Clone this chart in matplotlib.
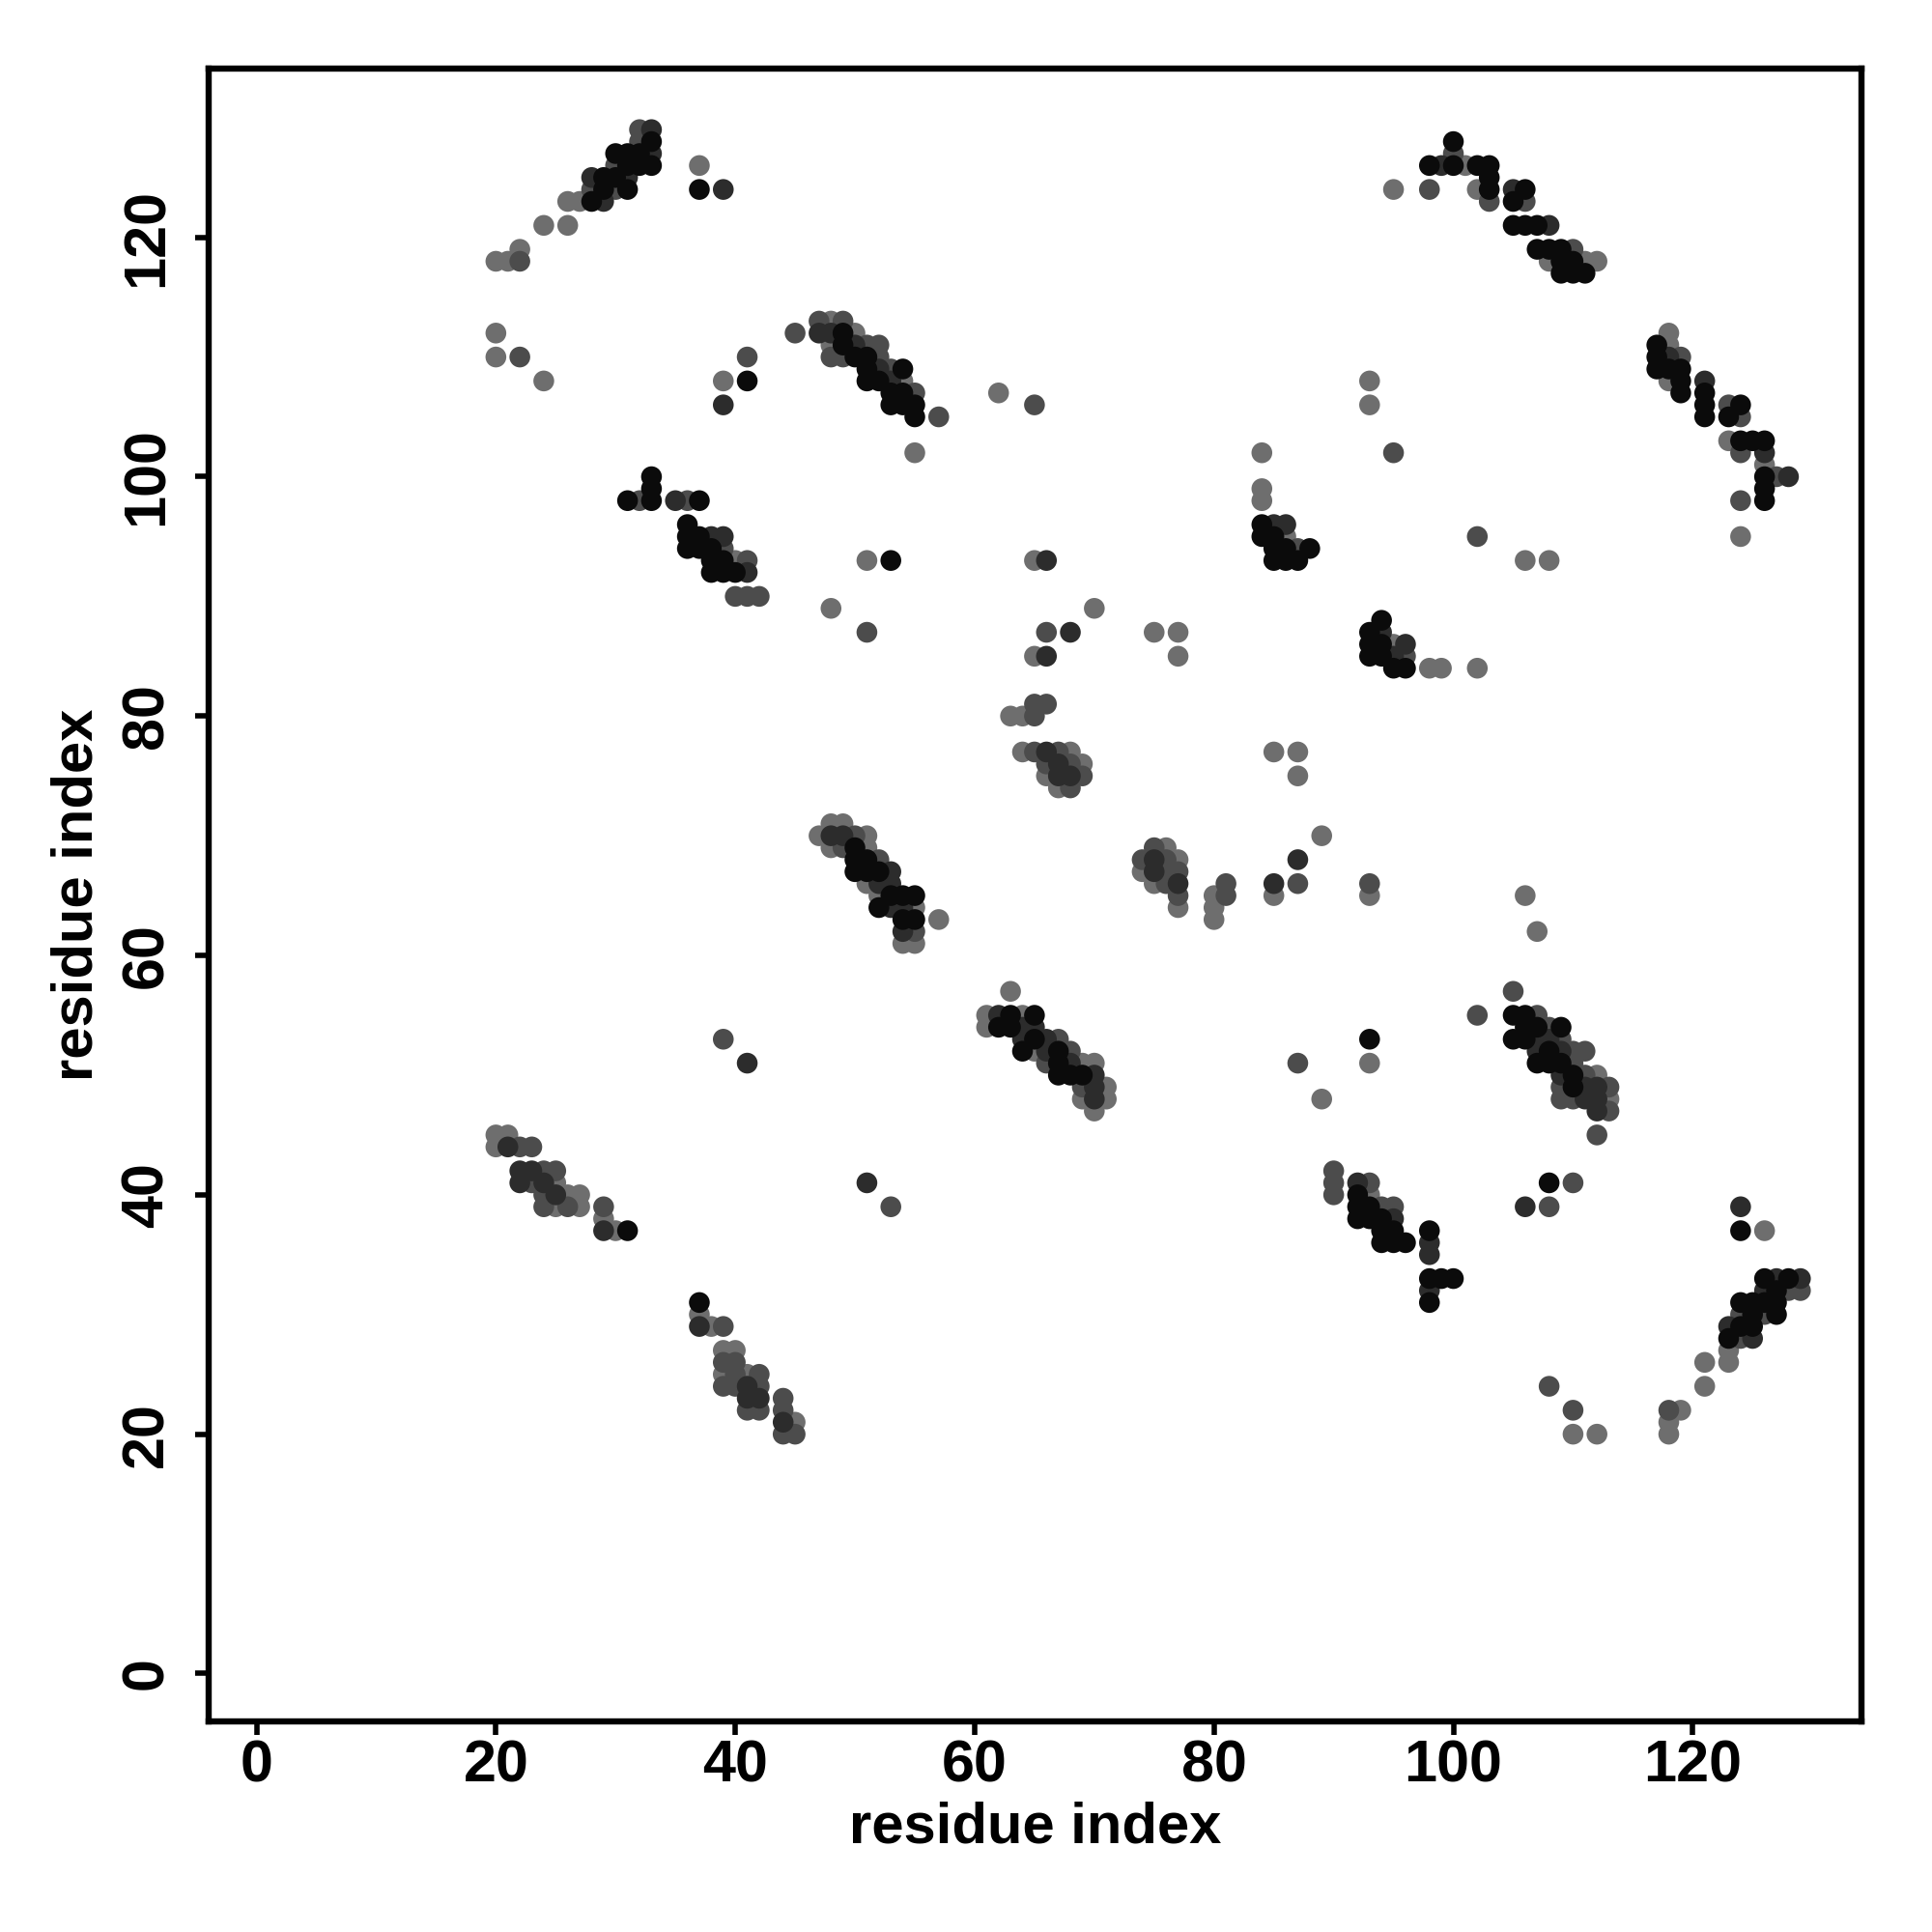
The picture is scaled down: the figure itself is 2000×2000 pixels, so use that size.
import matplotlib
matplotlib.use("Agg")
import matplotlib.pyplot as plt

# contact pairs: residue i (x), residue j (y), shade level (0 = darkest ... 3 = lightest)
res_i = [
    # top-left strand pair
    32, 33, 32, 33, 30, 31, 32, 33, 30, 31, 32, 33, 37, 28, 29, 30, 31, 28, 29, 30, 31, 37, 39,
    26, 27, 28, 29, 24, 26, 22, 20, 21, 22,
    20, 20, 22, 24, 41, 39, 41, 39,
    # 45-57 / 102-113
    45, 47, 48, 49, 47, 48, 49, 50, 48, 49, 50, 51, 52, 48, 49, 50, 51, 52, 51, 52, 53, 54,
    51, 52, 53, 54, 53, 54, 55, 53, 54, 55, 55, 57, 55,
    # 31-42 / 90-100
    33, 33, 31, 32, 33, 35, 36, 37, 36, 36, 37, 38, 39, 36, 37, 38, 39, 38, 39, 40, 41,
    38, 39, 40, 41, 40, 41, 42, 51, 53, 48, 51,
    # 62-70 / 73-107
    62, 65, 65, 66, 70, 66, 68, 65, 66, 65, 66, 63, 64, 65, 64, 65, 66, 67, 68, 66, 67, 68, 69,
    66, 67, 68, 69, 67, 68, 75, 77, 77,
    # 47-57 / 61-71
    48, 49, 47, 48, 49, 50, 51, 48, 49, 50, 51, 50, 51, 52, 50, 51, 52, 53, 51, 52, 53,
    52, 53, 54, 55, 52, 53, 54, 55, 54, 55, 57, 54, 55, 54, 55,
    # 61-71 / 47-57
    63, 61, 62, 63, 64, 65, 61, 62, 63, 64, 65, 64, 65, 66, 67, 64, 65, 66, 67, 68, 66, 67, 68,
    69, 70, 67, 68, 69, 70, 69, 70, 71, 69, 70, 71, 70,
    # 74-93 / 63-77
    85, 87, 87, 89, 75, 76, 74, 75, 76, 77, 87, 74, 75, 76, 77, 75, 76, 77, 81, 85, 87, 77, 80,
    81, 85, 77, 80, 80, 93, 93,
    # 84-108 / 84-108
    93, 93, 84, 95, 84, 84, 84, 85, 86, 84, 85, 86, 102, 85, 86, 87, 88, 85, 86, 87, 106, 108,
    94, 93, 94, 93, 94, 95, 96, 93, 94, 95, 96, 95, 96, 98, 99, 102,
    # top-right strand pair
    100, 100, 98, 99, 100, 101, 102, 103, 103, 95, 98, 102, 103, 105, 106, 103, 105, 106,
    105, 106, 107, 108, 107, 108, 109, 110, 108, 109, 110, 111, 112, 109, 110, 111,
    # 117-128 / 95-112
    118, 117, 118, 117, 118, 119, 117, 118, 119, 118, 119, 121, 119, 121, 121, 123, 124, 121,
    123, 124, 123, 124, 125, 126, 124, 126, 126, 126, 127, 128, 126, 124, 126, 124,
    # 102-113 / 20-65
    106, 107, 105, 102, 105, 106, 107, 106, 107, 108, 109, 105, 106, 107, 108, 109, 107, 108,
    109, 110, 111, 107, 108, 109, 110, 109, 110, 111, 112, 109, 110, 111, 112, 113, 109, 110,
    111, 112, 113, 112, 113, 112, 108, 110, 106, 108, 108, 110, 110, 112,
    # 87-100 / 31-53
    93, 87, 93, 89, 90, 90, 92, 93, 90, 92, 93, 92, 93, 94, 95, 92, 93, 94, 95, 94, 95, 98,
    94, 95, 96, 98, 98, 98, 99, 100, 98, 98,
    # 118-129 / 20-39
    124, 124, 126, 126, 127, 128, 129, 126, 127, 128, 129, 124, 125, 126, 127, 124, 125, 126,
    127, 123, 124, 125, 123, 124, 125, 123, 121, 123, 121, 118, 119, 118, 118,
    # 20-53 / 20-53
    39, 41, 20, 21, 20, 21, 22, 23, 22, 23, 24, 25, 22, 23, 24, 25, 24, 25, 26, 27, 24, 25, 26,
    27, 29, 29, 29, 30, 31, 51, 53,
    37, 37, 37, 38, 39, 39, 40, 39, 40, 39, 40, 41, 42, 39, 40, 41, 42, 41, 42, 44, 41, 42, 44,
    44, 45, 44, 45,
]
res_j = [
    129, 129, 128, 128, 127, 127, 127, 127, 126, 126, 126, 126, 126, 125, 125, 125, 125, 124,
    124, 124, 124, 124, 124, 123, 123, 123, 123, 121, 121, 119, 118, 118, 118,
    112, 110, 110, 108, 110, 108, 108, 106,
    112, 113, 113, 113, 112, 112, 112, 112, 111, 111, 111, 111, 111, 110, 110, 110, 110, 110,
    109, 109, 109, 109, 108, 108, 108, 108, 107, 107, 107, 106, 106, 106, 105, 105, 102,
    100, 99, 98, 98, 98, 98, 98, 98, 96, 95, 95, 95, 95, 94, 94, 94, 94, 93, 93, 93, 93,
    92, 92, 92, 92, 90, 90, 90, 93, 93, 89, 87,
    107, 106, 93, 93, 89, 87, 87, 85, 85, 81, 81, 80, 80, 80, 77, 77, 77, 77, 77, 76, 76, 76, 76,
    75, 75, 75, 75, 74, 74, 87, 87, 85,
    71, 71, 70, 70, 70, 70, 70, 69, 69, 69, 69, 68, 68, 68, 67, 67, 67, 67, 66, 66, 66,
    65, 65, 65, 65, 64, 64, 64, 64, 63, 63, 63, 62, 62, 61, 61,
    57, 55, 55, 55, 55, 55, 54, 54, 54, 54, 54, 53, 53, 53, 53, 52, 52, 52, 52, 52, 51, 51, 51,
    51, 51, 50, 50, 50, 50, 49, 49, 49, 48, 48, 48, 47,
    77, 77, 75, 70, 69, 69, 68, 68, 68, 68, 68, 67, 67, 67, 67, 66, 66, 66, 66, 66, 66, 65, 65,
    65, 65, 64, 64, 63, 66, 65,
    108, 106, 102, 102, 99, 98, 96, 96, 96, 95, 95, 95, 95, 94, 94, 94, 94, 93, 93, 93, 93, 93,
    88, 87, 87, 86, 86, 86, 86, 85, 85, 85, 85, 84, 84, 84, 84, 84,
    128, 127, 126, 126, 126, 126, 126, 126, 125, 124, 124, 124, 124, 124, 124, 123, 123, 123,
    121, 121, 121, 121, 119, 119, 119, 119, 118, 118, 118, 118, 118, 117, 117, 117,
    112, 111, 111, 110, 110, 110, 109, 109, 109, 108, 108, 108, 107, 107, 106, 106, 106, 105,
    105, 105, 103, 103, 103, 103, 102, 102, 101, 100, 100, 100, 99, 98, 98, 95,
    65, 62, 57, 55, 55, 55, 55, 54, 54, 54, 54, 53, 53, 53, 53, 53, 52, 52,
    52, 52, 52, 51, 51, 51, 51, 50, 50, 50, 50, 49, 49, 49, 49, 49, 48, 48,
    48, 48, 48, 47, 47, 45, 41, 41, 39, 39, 24, 22, 20, 20,
    53, 51, 51, 48, 42, 41, 41, 41, 40, 40, 40, 39, 39, 39, 39, 38, 38, 38, 38, 37, 37, 37,
    36, 36, 36, 36, 35, 33, 33, 33, 32, 31,
    39, 37, 37, 33, 33, 33, 33, 32, 32, 32, 32, 31, 31, 31, 31, 30, 30, 30,
    30, 29, 29, 29, 28, 28, 28, 27, 26, 26, 24, 22, 22, 21, 20,
    53, 51, 45, 45, 44, 44, 44, 44, 42, 42, 42, 42, 41, 41, 41, 41, 40, 40, 40, 40, 39, 39, 39,
    39, 39, 38, 37, 37, 37, 41, 39,
    31, 30, 29, 29, 29, 27, 27, 26, 26, 25, 25, 25, 25, 24, 24, 24, 24, 23, 23, 23, 22, 22, 22,
    21, 21, 20, 20,
]
shade = [
    2, 1, 2, 0, 0, 0, 0, 1, 2, 0, 0, 0, 3, 1, 0, 0, 1, 2, 0, 2, 0, 0, 1,
    3, 3, 0, 1, 3, 3, 3, 3, 3, 2,
    3, 3, 2, 3, 2, 3, 0, 1,
    2, 2, 3, 2, 1, 1, 0, 3, 3, 0, 1, 2, 2, 2, 2, 0, 0, 2, 0, 1, 2, 0,
    0, 0, 1, 3, 0, 0, 2, 0, 0, 0, 0, 2, 3,
    0, 0, 0, 2, 0, 1, 2, 0, 0, 0, 0, 1, 1, 0, 0, 0, 2, 0, 0, 3, 2,
    0, 0, 0, 1, 2, 2, 2, 3, 0, 3, 2,
    3, 2, 3, 1, 3, 2, 1, 3, 1, 2, 2, 3, 3, 2, 3, 2, 1, 2, 3, 2, 1, 2, 3,
    3, 1, 1, 2, 3, 2, 3, 3, 3,
    3, 3, 3, 1, 1, 2, 3, 3, 2, 0, 3, 0, 0, 2, 0, 0, 0, 1, 3, 1, 1,
    3, 0, 0, 0, 0, 1, 1, 3, 0, 0, 3, 1, 2, 3, 3,
    3, 3, 1, 0, 3, 0, 3, 0, 0, 1, 1, 1, 0, 1, 2, 0, 3, 1, 0, 2, 2, 0, 1,
    3, 3, 0, 0, 0, 1, 2, 1, 3, 3, 1, 3, 3,
    3, 3, 3, 3, 2, 3, 2, 1, 2, 3, 1, 3, 1, 2, 2, 3, 2, 1, 2, 1, 2, 2, 3,
    2, 3, 3, 3, 3, 2, 3,
    3, 3, 3, 2, 3, 3, 0, 1, 1, 0, 0, 3, 2, 0, 0, 2, 0, 0, 0, 0, 3, 3,
    0, 0, 1, 0, 0, 3, 1, 0, 0, 1, 2, 0, 0, 3, 3, 3,
    0, 2, 0, 1, 0, 3, 0, 0, 0, 3, 2, 3, 0, 1, 0, 2, 0, 2,
    0, 0, 0, 1, 0, 0, 0, 2, 3, 0, 0, 3, 3, 0, 0, 0,
    3, 0, 3, 0, 1, 2, 0, 0, 0, 3, 0, 1, 0, 0, 0, 2, 0, 0,
    0, 2, 3, 0, 0, 0, 2, 1, 3, 0, 2, 1, 0, 2, 0, 3,
    3, 3, 2, 2, 0, 0, 2, 0, 0, 2, 0, 0, 0, 1, 1, 2, 1, 0,
    1, 2, 2, 0, 0, 0, 2, 1, 0, 2, 3, 2, 0, 1, 1, 2, 2, 2,
    1, 1, 3, 1, 2, 2, 0, 2, 1, 2, 2, 2, 3, 3,
    0, 2, 3, 3, 2, 2, 1, 2, 2, 0, 3, 0, 0, 2, 2, 0, 0, 0, 1, 0, 0, 0,
    0, 0, 0, 1, 1, 0, 0, 0, 1, 0,
    1, 0, 3, 0, 1, 0, 1, 1, 0, 2, 2, 0, 0, 0, 0, 2, 0, 2,
    0, 1, 0, 0, 0, 2, 1, 3, 3, 3, 3, 2, 3, 3, 3,
    2, 1, 3, 3, 3, 1, 2, 2, 1, 1, 2, 2, 1, 2, 1, 3, 2, 1, 3, 3, 2, 3, 2,
    3, 2, 3, 1, 3, 0, 1, 2,
    0, 3, 1, 3, 2, 3, 3, 2, 2, 3, 2, 3, 2, 2, 2, 1, 2, 1, 1, 2, 2, 2, 2,
    1, 3, 2, 2,
]

tick_values = [0, 20, 40, 60, 80, 100, 120]
axis_title = "residue index"

shade_colors = ["#0b0b0b", "#2c2c2c", "#4c4c4c", "#6e6e6e"]

plt.rcParams["font.family"] = ["Liberation Sans", "DejaVu Sans"]
plt.rcParams["font.weight"] = "bold"

fig = plt.figure(figsize=(10, 10), dpi=200)
ax = fig.add_axes([0.108, 0.109, 0.8555, 0.8555])

# draw lighter shades first so darker contacts sit on top
order = sorted(range(len(shade)), key=lambda k: -shade[k])
xs = [res_i[k] for k in order]
ys = [res_j[k] for k in order]
cs = [shade_colors[shade[k]] for k in order]
ax.scatter(xs, ys, s=60, c=cs, linewidths=0, zorder=3)

ax.set_xlim(-4.0, 134.1)
ax.set_ylim(-4.0, 134.1)
ax.set_xticks(tick_values)
ax.set_yticks(tick_values)
ax.set_xticklabels([str(v) for v in tick_values], fontsize=22, fontweight="bold")
ax.set_yticklabels([str(v) for v in tick_values], fontsize=22, fontweight="bold",
                   rotation=90, va="center")
ax.tick_params(axis="x", length=5, width=2.0, pad=1.5)
ax.tick_params(axis="y", length=5, width=2.0, pad=7.5)
for sp in ax.spines.values():
    sp.set_linewidth(2.3)

ax.text(0.5, -0.0643, axis_title, transform=ax.transAxes, ha="center", va="center",
        fontsize=21.5, fontweight="bold")
ax.text(-0.0795, 0.5, axis_title, transform=ax.transAxes, ha="center", va="center",
        fontsize=21.5, fontweight="bold", rotation=90)

fig.savefig("out.png", dpi=200, facecolor="white")
